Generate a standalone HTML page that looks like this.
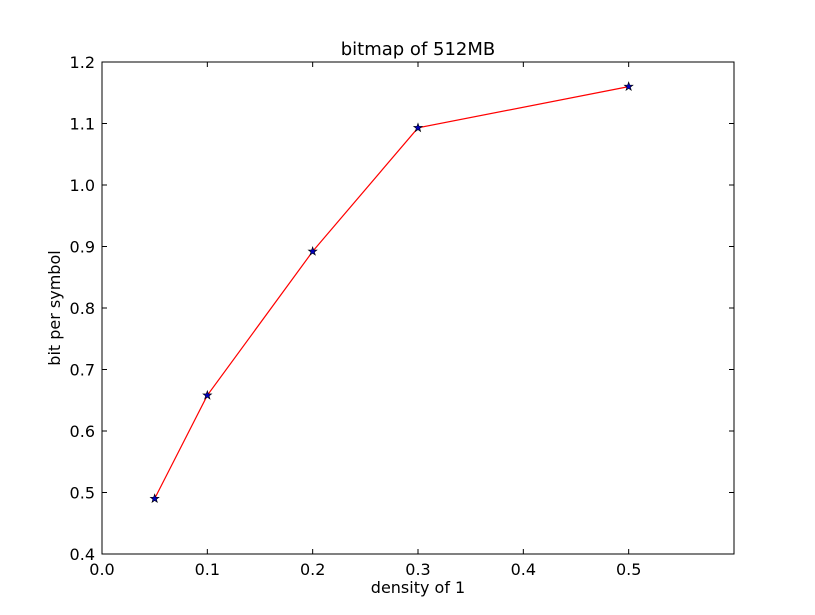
<!DOCTYPE html>
<html><head><meta charset="utf-8"><style>
body{margin:0;background:#fff;}
svg{display:block;font-family:"DejaVu Sans","Liberation Sans",sans-serif;}
</style></head><body>
<svg id="chart" width="815" height="615" viewBox="0 0 815 615">
<rect x="0" y="0" width="815" height="615" fill="#fff"/>
<g id="plot"></g>
</svg>
<script>
const xValues=[0.05,0.1,0.2,0.3,0.5];
const yValues=[0.49,0.658,0.892,1.093,1.16];
const xTicks=[0.0,0.1,0.2,0.3,0.4,0.5];
const xTickLabels=["0.0","0.1","0.2","0.3","0.4","0.5"];
const yTicks=[0.4,0.5,0.6,0.7,0.8,0.9,1.0,1.1,1.2];
const yTickLabels=["0.4","0.5","0.6","0.7","0.8","0.9","1.0","1.1","1.2"];
const L=102,R=734,T=62,B=554,xMin=0,xMax=0.6,yMin=0.4,yMax=1.2;
const sx=v=>L+(v-xMin)/(xMax-xMin)*(R-L);
const sy=v=>B-(v-yMin)/(yMax-yMin)*(B-T);
const NS="http://www.w3.org/2000/svg";
const g=document.getElementById('plot');
function mk(t,a,p){const e=document.createElementNS(NS,t);for(const k in a)e.setAttribute(k,a[k]);(p||g).appendChild(e);return e;}
const pts=xValues.map((x,i)=>sx(x)+','+sy(yValues[i])).join(' ');
const line=mk('polyline',{points:pts,fill:'none',stroke:'#ff0000','stroke-width':1.2});


function star(cx,cy,r){let s=[];for(let i=0;i<10;i++){const rr=i%2?r*0.4:r;const a=-Math.PI/2+i*Math.PI/5;s.push((cx+rr*Math.cos(a)).toFixed(2)+','+(cy+rr*Math.sin(a)).toFixed(2));}return s.join(' ');}
xValues.forEach((x,i)=>{const m=mk('polygon',{points:star(sx(x),sy(yValues[i]),4.5),fill:'#0000bf',stroke:'#000','stroke-width':0.6});

});
const fr=mk('rect',{x:L,y:T,width:R-L,height:B-T,fill:'none',stroke:'#000','stroke-width':1});


xTicks.forEach((v,i)=>{const x=sx(v);
mk('line',{x1:x,y1:B,x2:x,y2:B-5,stroke:'#000'});mk('line',{x1:x,y1:T,x2:x,y2:T+5,stroke:'#000'});
const t=mk('text',{x:x,y:B+21,'text-anchor':'middle','font-size':16});t.textContent=xTickLabels[i];

});
yTicks.forEach((v,i)=>{const y=sy(v);
mk('line',{x1:L,y1:y,x2:L+5,y2:y,stroke:'#000'});mk('line',{x1:R,y1:y,x2:R-5,y2:y,stroke:'#000'});
const t=mk('text',{x:L-7,y:y+6,'text-anchor':'end','font-size':16});t.textContent=yTickLabels[i];

});
</script>
<svg style="position:absolute;left:0;top:0" width="815" height="615">
<text x="418" y="55" text-anchor="middle" font-size="18" font-family="DejaVu Sans,Liberation Sans,sans-serif">bitmap of 512MB</text>
<text x="418" y="593" text-anchor="middle" font-size="16" font-family="DejaVu Sans,Liberation Sans,sans-serif">density of 1</text>
<text transform="translate(60,308) rotate(-90)" text-anchor="middle" font-size="16" font-family="DejaVu Sans,Liberation Sans,sans-serif">bit per symbol</text>
</svg>
</body></html>
